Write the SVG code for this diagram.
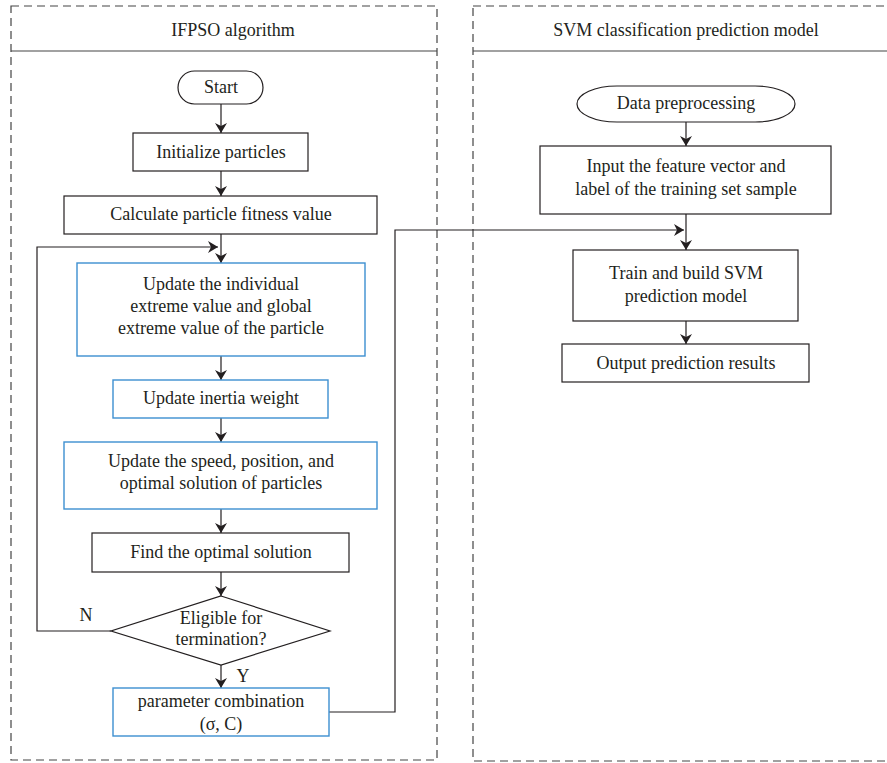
<svg xmlns="http://www.w3.org/2000/svg" width="887" height="763" viewBox="0 0 887 763">
<defs>
<marker id="ah" viewBox="0 0 10 12" refX="10" refY="6" markerWidth="10" markerHeight="12" markerUnits="userSpaceOnUse" orient="auto">
<path d="M0,0 L10,6 L0,12 L3,6 Z" fill="#231f20"/>
</marker>
</defs>
<style>
text{font-family:"Liberation Serif","Times New Roman",serif;font-size:18px;fill:#231f20;text-anchor:middle}
.frame{fill:none;stroke:#444;stroke-width:1.2;stroke-dasharray:8 5}
.hdr{stroke:#444;stroke-width:1.2}
.box{fill:#fff;stroke:#231f20;stroke-width:1.2}
.blue{fill:#fff;stroke:#3d8fd1;stroke-width:1.4}
.ln{fill:none;stroke:#231f20;stroke-width:1.2}
</style>
<rect width="887" height="763" fill="#fff"/>
<g id="frame-ifpso">
<rect class="frame" x="11" y="6" width="426" height="754"/>
<line class="hdr" x1="11" y1="51" x2="437" y2="51"/>
<text x="233" y="36">IFPSO algorithm</text>
</g>
<g id="frame-svm">
<rect class="frame" x="473" y="6" width="420" height="755"/>
<line class="hdr" x1="473" y1="51" x2="887" y2="51"/>
<text x="686" y="36">SVM classification prediction model</text>
</g>
<g id="connectors">
<line class="ln" x1="221" y1="104" x2="221" y2="133" marker-end="url(#ah)"/>
<line class="ln" x1="221" y1="171" x2="221" y2="196" marker-end="url(#ah)"/>
<line class="ln" x1="221" y1="234" x2="221" y2="263" marker-end="url(#ah)"/>
<polyline class="ln" points="111,631 37,631 37,247 218,247" marker-end="url(#ah)"/>
<line class="ln" x1="221" y1="356" x2="221" y2="380" marker-end="url(#ah)"/>
<line class="ln" x1="221" y1="418" x2="221" y2="442" marker-end="url(#ah)"/>
<line class="ln" x1="221" y1="509" x2="221" y2="533" marker-end="url(#ah)"/>
<line class="ln" x1="221" y1="572" x2="221" y2="596" marker-end="url(#ah)"/>
<line class="ln" x1="221" y1="665" x2="221" y2="688" marker-end="url(#ah)"/>
<polyline class="ln" points="329,712 395,712 395,230 684,230" marker-end="url(#ah)"/>
<line class="ln" x1="686" y1="122" x2="686" y2="146" marker-end="url(#ah)"/>
<line class="ln" x1="686" y1="214" x2="686" y2="250" marker-end="url(#ah)"/>
<line class="ln" x1="686" y1="321" x2="686" y2="344" marker-end="url(#ah)"/>
<text x="86" y="621">N</text>
<text x="243" y="682">Y</text>
</g>
<g id="start">
<rect class="box" x="178" y="71" width="85" height="33" rx="16.5" ry="16.5"/>
<text x="221" y="93">Start</text>
</g>
<g id="init">
<rect class="box" x="133" y="133" width="175" height="38"/>
<text x="221" y="158">Initialize particles</text>
</g>
<g id="fitness">
<rect class="box" x="64" y="196" width="313" height="38"/>
<text x="221" y="220">Calculate particle fitness value</text>
</g>
<g id="update-extreme">
<rect class="blue" x="77" y="263" width="288" height="93"/>
<text x="221" y="290">Update the individual</text>
<text x="221" y="312">extreme value and global</text>
<text x="221" y="334">extreme value of the particle</text>
</g>
<g id="inertia">
<rect class="blue" x="113" y="380" width="215" height="38"/>
<text x="221" y="404">Update inertia weight</text>
</g>
<g id="update-speed">
<rect class="blue" x="64" y="442" width="313" height="67"/>
<text x="221" y="467">Update the speed, position, and</text>
<text x="221" y="489">optimal solution of particles</text>
</g>
<g id="find-optimal">
<rect class="box" x="92" y="533" width="257" height="39"/>
<text x="221" y="558">Find the optimal solution</text>
</g>
<g id="decision">
<polygon class="box" points="221,596 330,631 221,665 111,631"/>
<text x="221" y="624">Eligible for</text>
<text x="221" y="645">termination?</text>
</g>
<g id="param">
<rect class="blue" x="113" y="688" width="216" height="48"/>
<text x="221" y="707">parameter combination</text>
<text x="221" y="730">(σ, C)</text>
</g>
<g id="preprocess">
<rect class="box" x="577" y="86" width="218" height="36" rx="40" ry="18"/>
<text x="686" y="109">Data preprocessing</text>
</g>
<g id="input">
<rect class="box" x="540" y="146" width="291" height="68"/>
<text x="686" y="172">Input the feature vector and</text>
<text x="686" y="195">label of the training set sample</text>
</g>
<g id="train">
<rect class="box" x="573" y="250" width="225" height="71"/>
<text x="686" y="279">Train and build SVM</text>
<text x="686" y="302">prediction model</text>
</g>
<g id="output">
<rect class="box" x="562" y="344" width="247" height="38"/>
<text x="686" y="369">Output prediction results</text>
</g>
</svg>
